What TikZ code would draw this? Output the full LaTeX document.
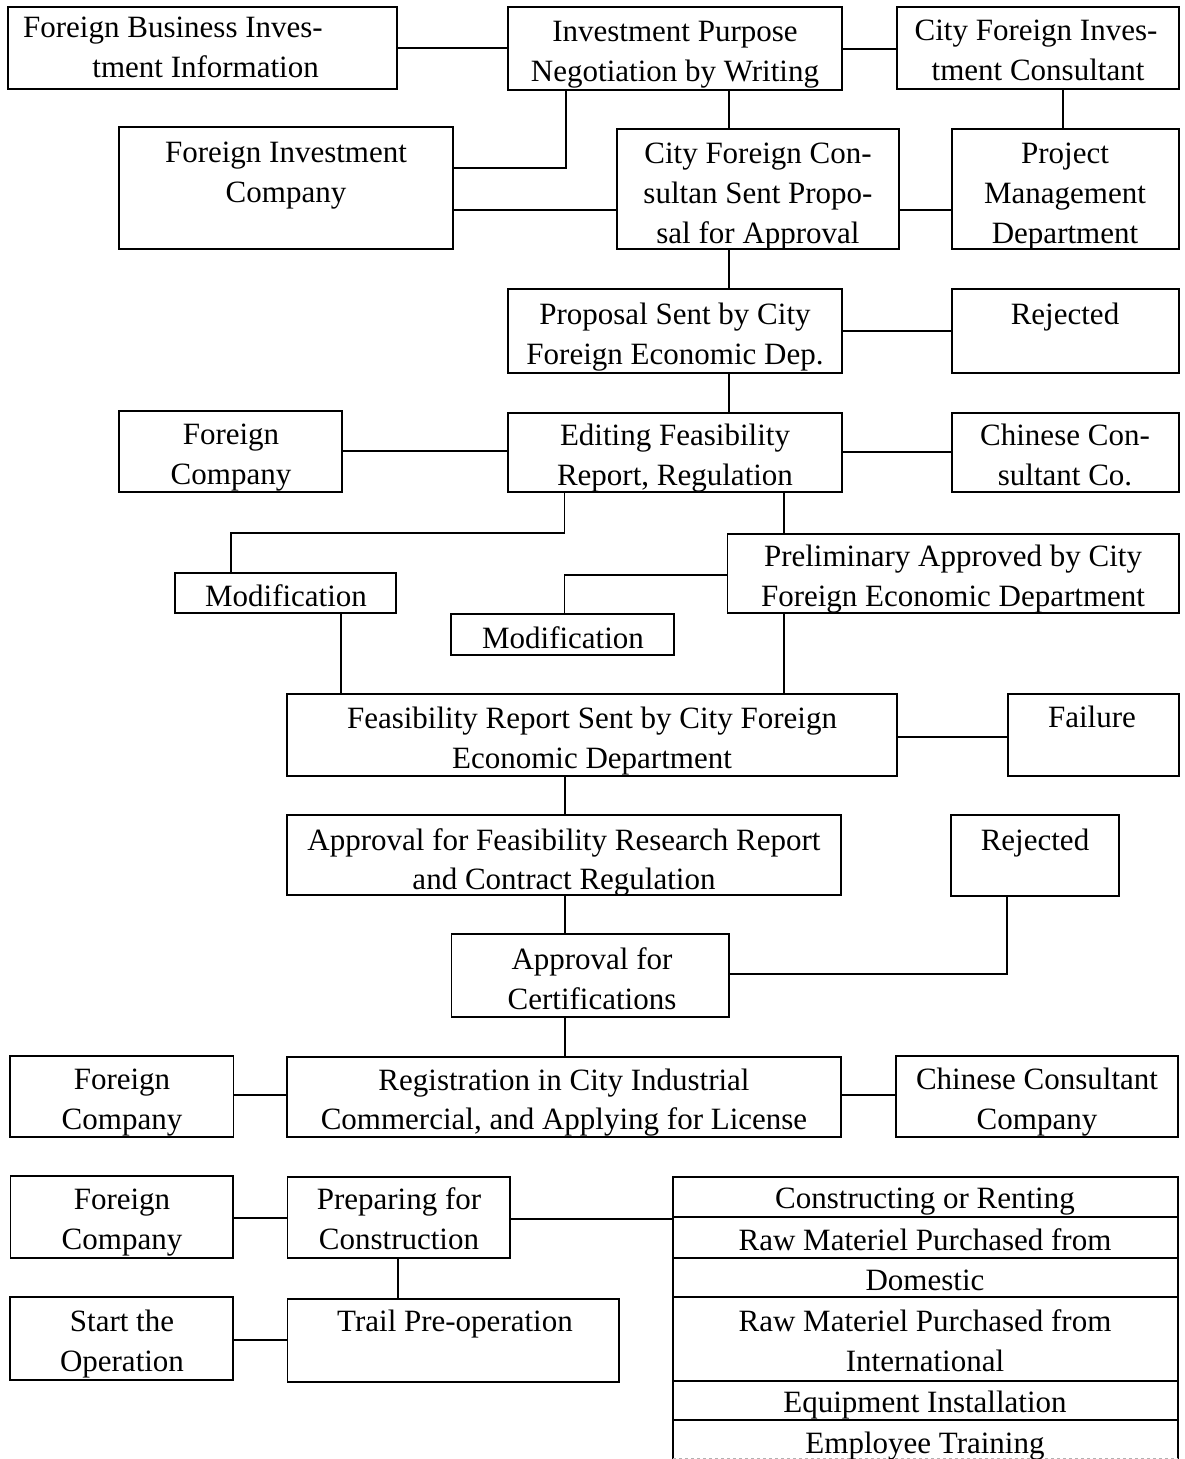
\documentclass[tikz,border=0pt]{standalone}
\usepackage{fontspec}
\setmainfont{Liberation Serif}
\newcommand\bx[5]{\node[box, minimum width={#4pt-#2pt}, minimum height={#5pt-#3pt}] (#1) at (#2,#3) {};}
\newcommand\tl[4]{\node[txt] (#1) at (#2,#3) {#4};}
\begin{document}
\begin{tikzpicture}[x=1pt,y=-1pt,
  box/.style={draw, line width=1.5pt, inner sep=0pt, outer sep=0pt, anchor=north west},
  txt/.style={inner sep=0pt, anchor=base},
  conn/.style={line width=1.5pt},
  font=\fontsize{31}{40}\selectfont]
\useasboundingbox (0,0) rectangle (1184,1459);
% boxes
\bx{fbii}{8}{7}{397}{89}
\bx{ipn}{508}{7}{842}{90}
\bx{cfic}{897}{7}{1179}{89}
\bx{fic}{119}{127}{453}{249}
\bx{cfcs}{617}{129}{899}{249}
\bx{pmd}{952}{129}{1179}{249}
\bx{prop}{508}{289}{842}{373}
\bx{rej1}{952}{289}{1179}{373}
\bx{fc1}{119}{411}{342}{492}
\bx{efr}{508}{413}{842}{492}
\bx{ccc}{952}{413}{1179}{492}
\bx{mod1}{175}{573}{396}{613}
\bx{pa}{727.5}{534}{1179}{613}
\bx{mod2}{451}{614}{674}{655}
\bx{frs}{287}{694}{897}{776}
\bx{fail}{1008}{694}{1179}{776}
\bx{afr}{287}{815}{841}{895}
\bx{rej2}{951}{815}{1119}{896}
\bx{ac}{451.6}{934}{729}{1017}
\bx{fc2}{10}{1056}{233.5}{1137}
\bx{reg}{287}{1057}{841}{1137}
\bx{ccc2}{896}{1056}{1178}{1137}
\bx{fc3}{10.5}{1176}{233}{1258}
\bx{pfc}{287.5}{1177}{510}{1258}
\bx{so}{10}{1297}{233}{1380}
\bx{tpo}{287.5}{1299}{619}{1382}
\bx{r1}{673}{1177}{1178}{1217}
\bx{r2}{673}{1217}{1178}{1258}
\bx{r3}{673}{1258}{1178}{1297}
\bx{r4}{673}{1297}{1178}{1381}
\bx{r5}{673}{1381}{1178}{1420}
\node[box, draw=none, minimum width=505pt, minimum height=39pt] (r6) at (673,1420) {};
\draw[conn] (r6.north west) -- (r6.south west);
\draw[conn] (r6.north east) -- (r6.south east);
\draw[gray!60, line width=0.8pt, dashed] ([yshift=0.6pt]r6.south west) -- ([yshift=0.6pt]r6.south east);
% texts
\node[txt, anchor=base east] (fbii-a) at (323,37) {Foreign Business Inves-};
\node[txt, anchor=base east] (fbii-b) at (319,77) {tment Information};
\tl{ipn-a}{675}{41}{Investment Purpose}
\tl{ipn-b}{675}{81}{Negotiation by Writing}
\tl{cfic-a}{1036}{40}{City Foreign Inves-}
\tl{cfic-b}{1038}{80}{tment Consultant}
\tl{fic-a}{286}{162}{Foreign Investment}
\tl{fic-b}{286}{202}{Company}
\tl{cfcs-a}{758}{163}{City Foreign Con-}
\tl{cfcs-b}{758}{203}{sultan Sent Propo-}
\tl{cfcs-c}{758}{243}{sal for Approval}
\tl{pmd-a}{1065}{163}{Project}
\tl{pmd-b}{1065}{203}{Management}
\tl{pmd-c}{1065}{243}{Department}
\tl{prop-a}{675}{324}{Proposal Sent by City}
\tl{prop-b}{675}{364}{Foreign Economic Dep.}
\tl{rej1-a}{1065}{324}{Rejected}
\tl{fc1-a}{231}{444}{Foreign}
\tl{fc1-b}{231}{484}{Company}
\tl{efr-a}{675}{445}{Editing Feasibility}
\tl{efr-b}{675}{485}{Report, Regulation}
\tl{ccc-a}{1065}{445}{Chinese Con-}
\tl{ccc-b}{1065}{485}{sultant Co.}
\tl{mod1-a}{286}{606}{Modification}
\tl{pa-a}{953}{566}{Preliminary Approved by City}
\tl{pa-b}{953}{606}{Foreign Economic Department}
\tl{mod2-a}{563}{648}{Modification}
\tl{frs-a}{592}{728}{Feasibility Report Sent by City Foreign}
\tl{frs-b}{592}{768}{Economic Department}
\tl{fail-a}{1092}{727}{Failure}
\tl{afr-a}{564}{850}{Approval for Feasibility Research Report}
\tl{afr-b}{564}{889}{and Contract Regulation}
\tl{rej2-a}{1035}{850}{Rejected}
\tl{ac-a}{592}{969}{Approval for}
\tl{ac-b}{592}{1009}{Certifications}
\tl{fc2-a}{122}{1089}{Foreign}
\tl{fc2-b}{122}{1129}{Company}
\tl{reg-a}{564}{1090}{Registration in City Industrial}
\tl{reg-b}{564}{1129}{Commercial, and Applying for License}
\tl{ccc2-a}{1037}{1089}{Chinese Consultant}
\tl{ccc2-b}{1037}{1129}{Company}
\tl{fc3-a}{122}{1209}{Foreign}
\tl{fc3-b}{122}{1249}{Company}
\tl{pfc-a}{399}{1209}{Preparing for}
\tl{pfc-b}{399}{1249}{Construction}
\tl{so-a}{122}{1331}{Start the}
\tl{so-b}{122}{1371}{Operation}
\tl{tpo-a}{455}{1331}{Trail Pre-operation}
\tl{r1-a}{925}{1208}{Constructing or Renting}
\tl{r2-a}{925}{1250}{Raw Materiel Purchased from}
\tl{r3-a}{925}{1290}{Domestic}
\tl{r4-a}{925}{1331}{Raw Materiel Purchased from}
\tl{r4-b}{925}{1371}{International}
\tl{r5-a}{925}{1412}{Equipment Installation}
\tl{r6-a}{925}{1453}{Employee Training}
% connectors
\draw[conn] (fbii.east |- 0,48) -- (ipn.west |- 0,48);
\draw[conn] (ipn.east |- 0,49) -- (cfic.west |- 0,49);
\draw[conn] (ipn.south -| 566,0) |- (fic.east |- 0,168);
\draw[conn] (ipn.south -| 729,0) -- (cfcs.north -| 729,0);
\draw[conn] (fic.east |- 0,210) -- (cfcs.west |- 0,210);
\draw[conn] (cfcs.east |- 0,210) -- (pmd.west |- 0,210);
\draw[conn] (cfic.south -| 1063,0) -- (pmd.north -| 1063,0);
\draw[conn] (cfcs.south -| 729,0) -- (prop.north -| 729,0);
\draw[conn] (prop.east |- 0,331) -- (rej1.west |- 0,331);
\draw[conn] (prop.south -| 729,0) -- (efr.north -| 729,0);
\draw[conn] (fc1.east |- 0,451) -- (efr.west |- 0,451);
\draw[conn] (efr.east |- 0,452) -- (ccc.west |- 0,452);
\draw[conn] (efr.south -| 564.5,0) |- (231,533) -- (mod1.north -| 231,0);
\draw[conn] (efr.south -| 784,0) -- (pa.north -| 784,0);
\draw[conn] (pa.west |- 0,575) -| (mod2.north -| 564.5,0);
\draw[conn] (mod1.south -| 341,0) -- (frs.north -| 341,0);
\draw[conn] (pa.south -| 784,0) -- (frs.north -| 784,0);
\draw[conn] (frs.east |- 0,737) -- (fail.west |- 0,737);
\draw[conn] (frs.south -| 565,0) -- (afr.north -| 565,0);
\draw[conn] (afr.south -| 565,0) -- (ac.north -| 565,0);
\draw[conn] (rej2.south -| 1007,0) |- (ac.east |- 0,974);
\draw[conn] (ac.south -| 565,0) -- (reg.north -| 565,0);
\draw[conn] (fc2.east |- 0,1095) -- (reg.west |- 0,1095);
\draw[conn] (reg.east |- 0,1095) -- (ccc2.west |- 0,1095);
\draw[conn] (fc3.east |- 0,1218) -- (pfc.west |- 0,1218);
\draw[conn] (pfc.east |- 0,1219) -- (r2.west |- 0,1219);
\draw[conn] (pfc.south -| 398,0) -- (tpo.north -| 398,0);
\draw[conn] (so.east |- 0,1340) -- (tpo.west |- 0,1340);
\end{tikzpicture}
\end{document}
